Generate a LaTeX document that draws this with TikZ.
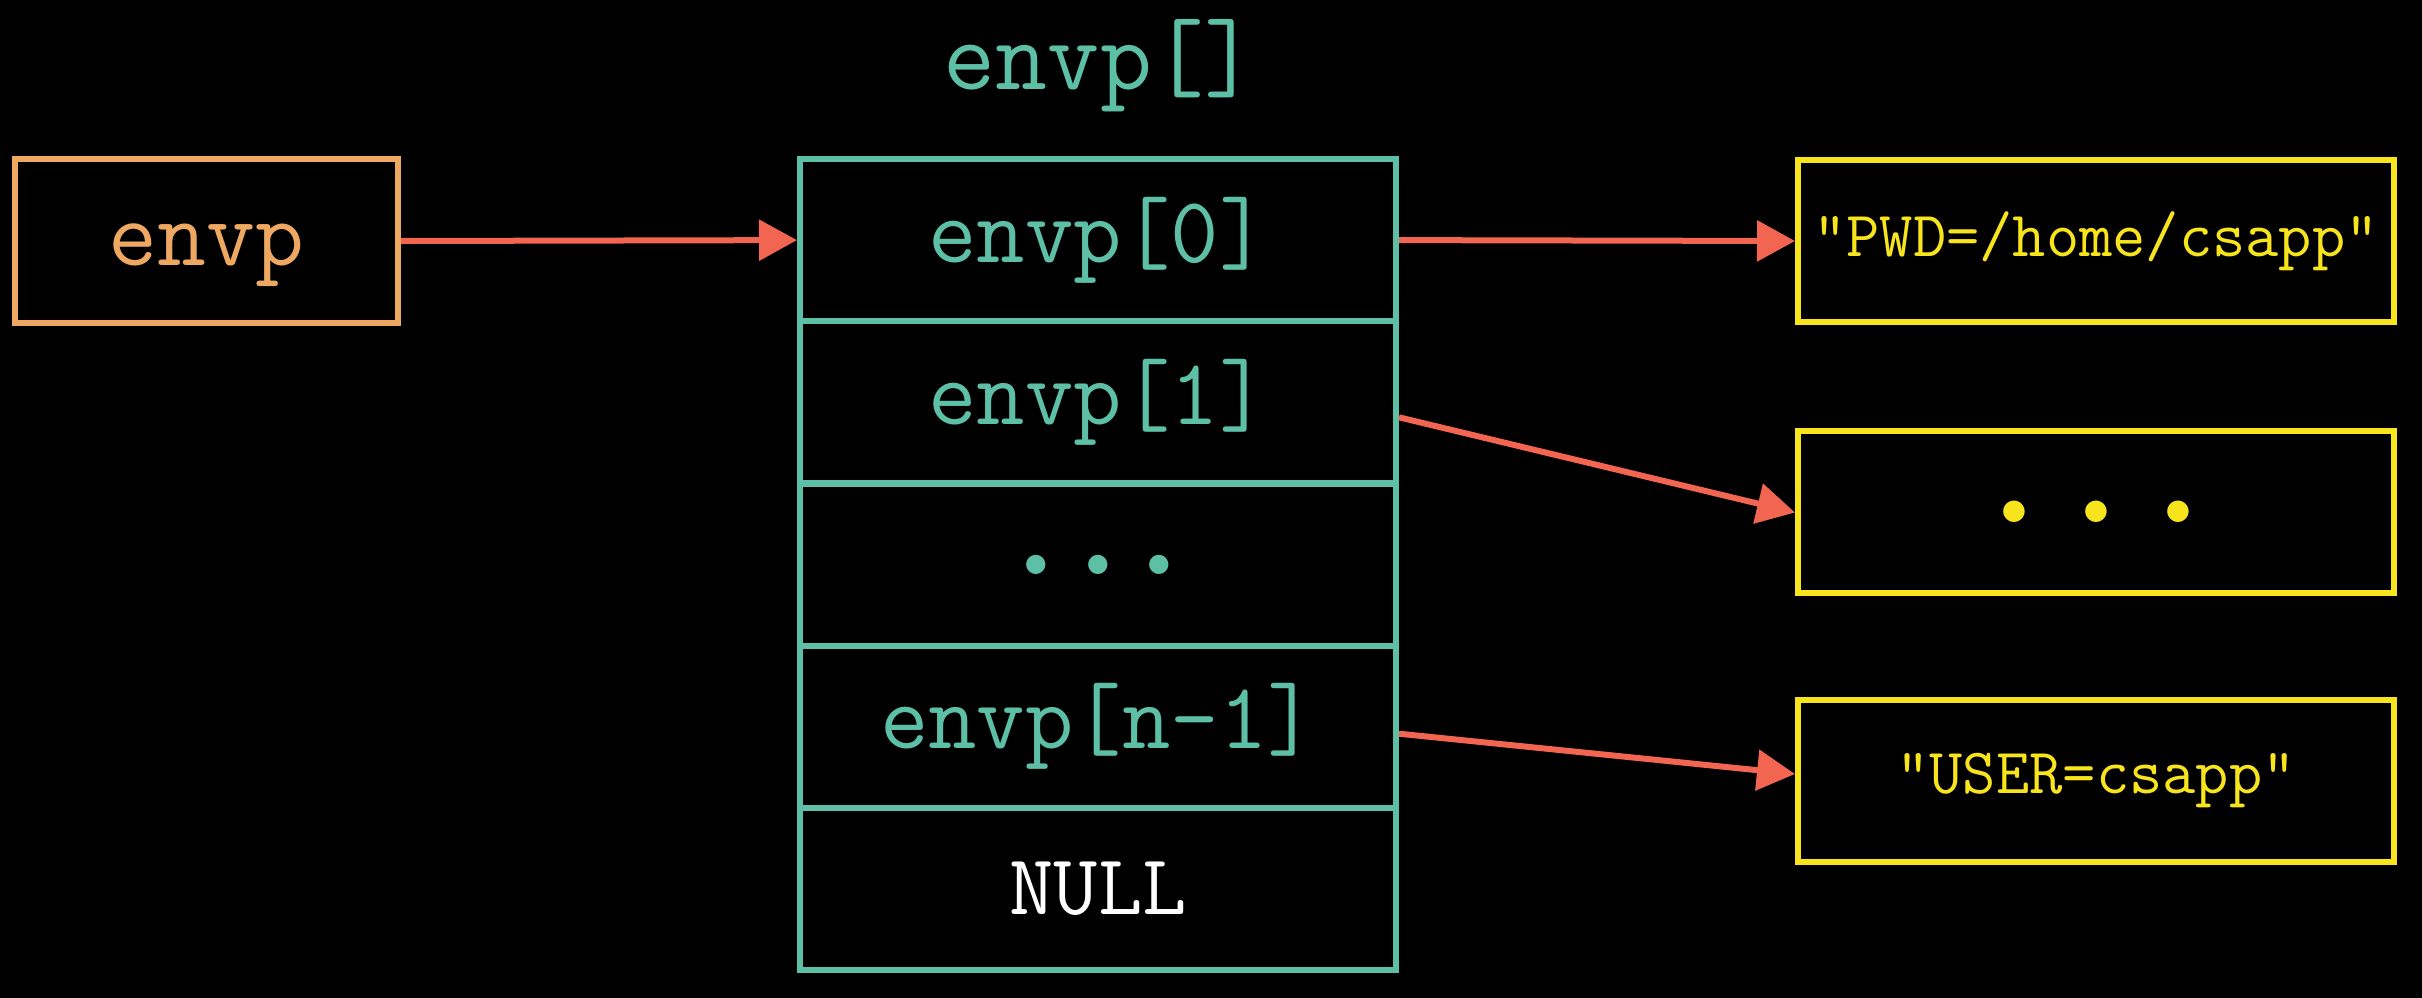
\documentclass[tikz,border=0pt]{standalone}
\usepackage{fontspec}
\usetikzlibrary{arrows.meta}
\definecolor{tealc}{HTML}{5CBFA6}
\definecolor{orangec}{HTML}{EFA862}
\definecolor{redc}{HTML}{F26651}
\definecolor{yellowc}{HTML}{F7E41C}
\tikzset{
  cellbox/.style={draw=tealc, line width=3pt, text=tealc, minimum width=298pt, minimum height=81pt, inner sep=0pt, font=\ttfamily\fontsize{47}{52}\selectfont},
  ptrbox/.style={draw=orangec, line width=3pt, minimum width=191.5pt, minimum height=82pt, inner sep=0pt},
  strbox/.style={draw=yellowc, line width=3pt, text=yellowc, minimum width=298pt, minimum height=81pt, inner sep=0pt, font=\ttfamily\fontsize{32.3}{38}\selectfont},
  ptr/.style={draw=redc, line width=3pt, -{Triangle[length=19pt,width=20pt]}}
}
\begin{document}
\begin{tikzpicture}[x=0.5pt,y=-0.5pt]
\useasboundingbox (0,0) rectangle (2422,997);
\fill[black] (-20,-20) rectangle (2442,1017);

\node[text=tealc, font=\ttfamily\fontsize{50.5}{56}\selectfont, inner sep=0pt] (title) at (1100,66) {envp[]};

\node[ptrbox] (envp) at (206.5,241) {};
\node[text=orangec, inner sep=0pt, anchor=base, font=\ttfamily\fontsize{47.5}{52}\selectfont] (envptext) at (206.5,265) {envp};

\node[cellbox] (r0) at (1098,240.1) {envp[0]};
\node[cellbox] (r1) at (1098,402.3) {envp[1]};
\node[cellbox] (r2) at (1098,564.5) {};
\node[cellbox, text=white, font=\ttfamily\fontsize{43}{50}\selectfont] (r4) at (1098,888.9) {NULL};
\node[cellbox] (r3) at (1098,726.7) {envp[n-1]};
\node[text=tealc, inner sep=0pt, font=\ttfamily\fontsize{85}{85}\selectfont] (dots1) at (r2.center) {.\hspace{-13pt}.\hspace{-13pt}.};

\node[strbox] (b1) at (2096,241) {"PWD=/home/csapp"};
\node[strbox] (b2) at (2096,511.5) {};
\node[text=yellowc, inner sep=0pt, font=\ttfamily\fontsize{95}{95}\selectfont] (dots2) at (b2.center) {.\hspace{-8pt}.\hspace{-8pt}.};
\node[strbox] (b3) at (2096,781) {"USER=csapp"};

\draw[ptr] (envp.east) -- (r0.west);
\draw[ptr] (r0.east) -- (b1.west);
\draw[ptr] ([yshift=-7.5pt]r1.east) -- ([yshift=-0.5pt]b2.west);
\draw[ptr] ([yshift=-3.5pt]r3.east) -- ([yshift=3.5pt]b3.west);
\end{tikzpicture}
\end{document}
